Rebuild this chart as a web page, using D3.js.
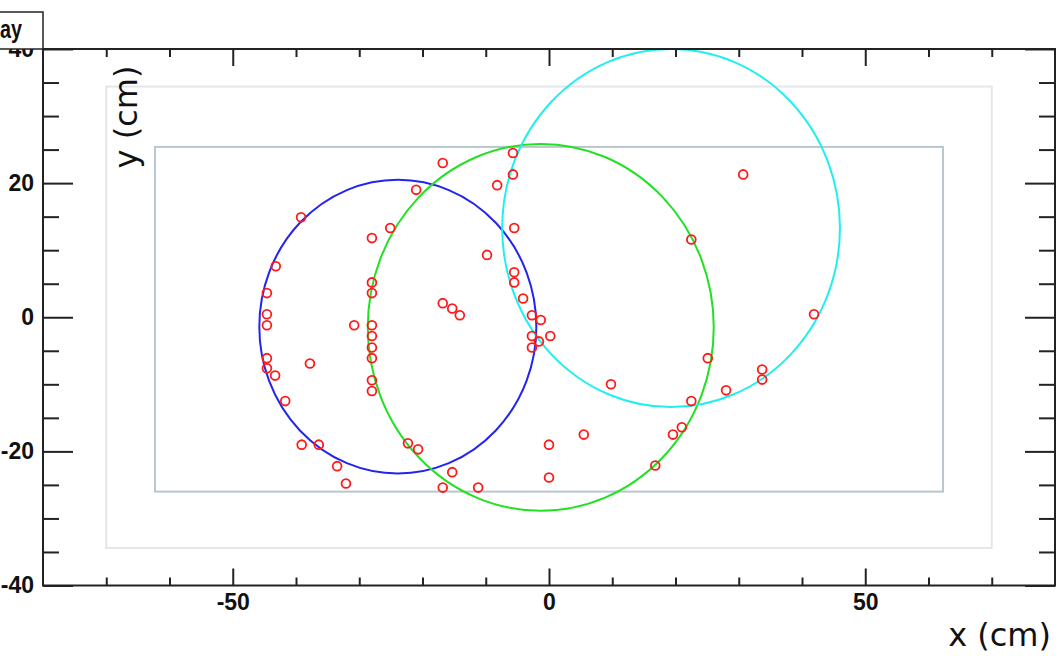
<!DOCTYPE html>
<html>
<head>
<meta charset="utf-8">
<script src="https://cdn.jsdelivr.net/npm/d3@7"></script>
<style>
  html, body { margin: 0; padding: 0; background: #ffffff; }
  svg { display: block; }
  .tick text { font-family: "Liberation Sans", Arial, sans-serif; font-weight: bold; }
</style>
</head>
<body>
<svg id="chart" width="1059" height="656"></svg>
<script>
// Hit positions (cm)
const hitX = [-44.6, -44.6, -44.6, -44.6, -44.6, -43.3, -43.2, -39.2, -41.7, -39.1,
              -36.4, -37.8, -33.5, -32.1, -28.0, -28.0, -28.0, -28.0, -28.0, -28.0,
              -28.0, -28.0, -28.0, -30.8, -25.1, -21.0, -16.8, -22.3, -20.7, -15.3,
              -16.8, -11.2, -16.8, -15.3, -14.1, -9.8, -8.2, -5.7, -5.7, -5.5,
              -5.5, -5.5, -4.1, -2.7, -1.3, -2.7, 0.2, -1.6, -2.7, 0.0,
              0.0, 5.5, 9.8, 16.8, 19.6, 21.0, 22.5, 22.5, 25.1, 28.0,
              30.7, 33.7, 33.7, 41.9];
const hitY = [3.6, 0.45, -1.2, -6.1, -7.6, -8.7, 7.6, 14.9, -12.5, -19.0,
              -19.0, -6.9, -22.2, -24.8, 11.8, 5.2, 3.6, -1.2, -2.8, -4.5,
              -6.1, -9.4, -11.0, -1.2, 13.3, 19.0, 23.0, -18.8, -19.7, -23.1,
              -25.4, -25.4, 2.1, 1.3, 0.3, 9.3, 19.7, 24.5, 21.3, 13.3,
              6.7, 5.2, 2.8, 0.3, -0.4, -2.8, -2.8, -3.6, -4.5, -19.0,
              -23.9, -17.5, -10.0, -22.1, -17.5, -16.4, -12.5, 11.6, -6.1, -10.9,
              21.3, -7.8, -9.3, 0.45];

// Fitted track circles: centre (cm) and radius (cm)
const trackCx = [-23.9, -1.3, 19.3];
const trackCy = [-1.4, -1.5, 13.3];
const trackR  = [21.9, 27.35, 26.7];
const trackColor = ["#2424f0", "#22e022", "#22eeee"];

// Detector outlines: [xmin, xmax, ymin, ymax] in cm
const outerBox = [-70, 70, -34.4, 34.4];
const innerBox = [-62.3, 62.3, -26.0, 25.4];

// Axis ranges and ticks
const xDomain = [-80, 80];
const yDomain = [-40, 40];
const xMajorTicks = [-50, 0, 50];
const xMinorTicks = [-70, -60, -40, -30, -20, -10, 10, 20, 30, 40, 60, 70];
const yMajorTicks = [-40, -20, 0, 20, 40];
const yMinorTicks = [-35, -30, -25, -15, -10, -5, 5, 10, 15, 25, 30, 35];

const titleText = "ay";
const xTitle = "x (cm)";
const yTitle = "y (cm)";

const svg = d3.select("#chart");
const frame = { left: 43, right: 1055, top: 49, bottom: 585.5 };

const x = d3.scaleLinear().domain(xDomain).range([frame.left, frame.right]);
const y = d3.scaleLinear().domain(yDomain).range([frame.bottom, frame.top]);

// Plain hyphen-minus for negative tick labels
const tickLabel = d => String(d);

// Detector outlines
function drawBox(b, color) {
  svg.append("rect")
    .attr("x", x(b[0])).attr("y", y(b[3]))
    .attr("width", x(b[1]) - x(b[0])).attr("height", y(b[2]) - y(b[3]))
    .attr("fill", "none").attr("stroke", color).attr("stroke-width", 2);
}
drawBox(outerBox, "#e4e6e8");
drawBox(innerBox, "#b9c6ce");

// Track circles, clipped to the frame
svg.append("clipPath").attr("id", "frameClip")
  .append("rect")
  .attr("x", frame.left).attr("y", frame.top)
  .attr("width", frame.right - frame.left).attr("height", frame.bottom - frame.top);

const plot = svg.append("g").attr("clip-path", "url(#frameClip)");
plot.selectAll("ellipse.track")
  .data(trackCx.map((cx, i) => ({ cx, cy: trackCy[i], r: trackR[i], c: trackColor[i] })))
  .join("ellipse")
  .attr("class", "track")
  .attr("cx", d => x(d.cx)).attr("cy", d => y(d.cy))
  .attr("rx", d => x(d.r) - x(0)).attr("ry", d => y(0) - y(d.r))
  .attr("fill", "none").attr("stroke", d => d.c).attr("stroke-width", 2);

// Hits
plot.selectAll("circle.hit")
  .data(hitX.map((hx, i) => ({ hx, hy: hitY[i] })))
  .join("circle")
  .attr("class", "hit")
  .attr("cx", d => x(d.hx)).attr("cy", d => y(d.hy))
  .attr("r", 4.4)
  .attr("fill", "none").attr("stroke", "#ff1a1a").attr("stroke-width", 1.8);

// Axes: bottom/top and left/right, major and minor ticks
function styleAxis(g) {
  g.select(".domain").remove();
  g.selectAll(".tick line").attr("stroke", "#222").attr("stroke-width", 2);
  g.selectAll(".tick text").attr("fill", "#111").attr("font-size", 23);
}

svg.append("g").attr("transform", `translate(0,${frame.bottom})`)
  .call(d3.axisBottom(x).tickValues(xMajorTicks).tickSize(-17).tickPadding(8).tickFormat(tickLabel))
  .call(styleAxis);
svg.append("g").attr("transform", `translate(0,${frame.bottom})`)
  .call(d3.axisBottom(x).tickValues(xMinorTicks).tickSize(-8).tickFormat(""))
  .call(styleAxis);
svg.append("g").attr("transform", `translate(0,${frame.top})`)
  .call(d3.axisTop(x).tickValues(xMajorTicks).tickSize(-17).tickFormat(""))
  .call(styleAxis);
svg.append("g").attr("transform", `translate(0,${frame.top})`)
  .call(d3.axisTop(x).tickValues(xMinorTicks).tickSize(-8).tickFormat(""))
  .call(styleAxis);

svg.append("g").attr("transform", `translate(${frame.left},0)`)
  .call(d3.axisLeft(y).tickValues(yMajorTicks).tickSize(-30).tickPadding(9).tickFormat(tickLabel))
  .call(styleAxis);
svg.append("g").attr("transform", `translate(${frame.left},0)`)
  .call(d3.axisLeft(y).tickValues(yMinorTicks).tickSize(-16).tickFormat(""))
  .call(styleAxis);
svg.append("g").attr("transform", `translate(${frame.right},0)`)
  .call(d3.axisRight(y).tickValues(yMajorTicks).tickSize(-30).tickFormat(""))
  .call(styleAxis);
svg.append("g").attr("transform", `translate(${frame.right},0)`)
  .call(d3.axisRight(y).tickValues(yMinorTicks).tickSize(-16).tickFormat(""))
  .call(styleAxis);

// Frame
svg.append("rect")
  .attr("x", frame.left).attr("y", frame.top)
  .attr("width", frame.right - frame.left).attr("height", frame.bottom - frame.top)
  .attr("fill", "none").attr("stroke", "#222").attr("stroke-width", 2);

// Title box in the top-left corner (covers the upper half of the top label)
svg.append("rect")
  .attr("x", -4).attr("y", 12).attr("width", 47).attr("height", frame.top - 12)
  .attr("fill", "#ffffff").attr("stroke", "#222").attr("stroke-width", 1.5);
svg.append("text")
  .attr("x", 0).attr("y", 38)
  .attr("font-family", "Liberation Sans, Arial, sans-serif")
  .attr("font-weight", "bold").attr("font-size", 26)
  .attr("textLength", 22).attr("lengthAdjust", "spacingAndGlyphs")
  .attr("fill", "#111")
  .text(titleText);

// Axis titles
svg.append("text")
  .attr("x", 1051).attr("y", 646)
  .attr("text-anchor", "end")
  .attr("font-family", "DejaVu Sans, Verdana, sans-serif")
  .attr("font-size", 32)
  .attr("fill", "#111")
  .text(xTitle);

svg.append("text")
  .attr("transform", "translate(137,117) rotate(-90)")
  .attr("text-anchor", "middle")
  .attr("font-family", "DejaVu Sans, Verdana, sans-serif")
  .attr("font-size", 32)
  .attr("fill", "#111")
  .text(yTitle);
</script>
</body>
</html>
